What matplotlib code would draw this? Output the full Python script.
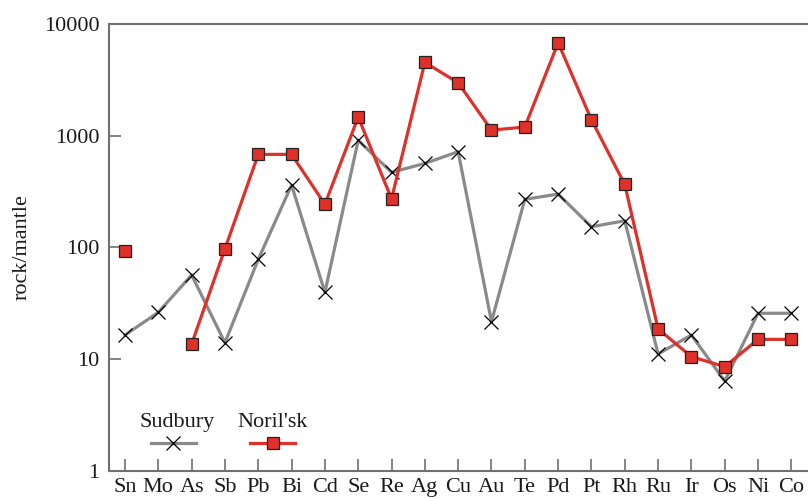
import numpy as np
import matplotlib
matplotlib.use('Agg')
import matplotlib.pyplot as plt

# Data
##############################################################################
elements = ['Sn', 'Mo', 'As', 'Sb', 'Pb', 'Bi', 'Cd', 'Se', 'Re', 'Ag', 'Cu',
            'Au', 'Te', 'Pd', 'Pt', 'Rh', 'Ru', 'Ir', 'Os', 'Ni', 'Co']
sudbury = [16.4, 26.2, 56.5, 14.0, 78, 361, 39.5, 910, 469, 565, 718,
           21.6, 269, 300, 153, 173, 11.1, 16.4, 6.35, 25.7, 25.7]
norilsk = [92, np.nan, 13.6, 97, 680, 680, 243, 1468, 272, 4530, 2977,
           1122, 1195, 6790, 1387, 366, 18.6, 10.5, 8.53, 15.0, 15.0]
yticks = [1, 10, 100, 1000, 10000]

# Style
##############################################################################
plt.rcParams['font.family'] = ['Liberation Serif', 'DejaVu Serif']
gray = '#8a8a8a'
red = '#e0302a'
spine_col = '#707070'
text_col = '#1a1a1a'
fs = 16

fig = plt.figure(figsize=(8.08, 4.99), dpi=100)
ax = fig.add_axes([0.1349, 0.0567, 0.8651, 0.8952])

x = np.arange(len(elements))
ax.plot(x, sudbury, color=gray, lw=2.3, marker='x', ms=9.5, mec='black',
        mew=0.9, zorder=2)
ax.plot(x, norilsk, color=red, lw=2.3, marker='s', ms=8, mfc=red,
        mec='#222222', mew=0.9, zorder=3)

ax.set_yscale('log')
ax.set_ylim(1, 10000)
ax.set_xlim(-0.48, 20.5)
ax.set_yticks(yticks)
ax.set_yticklabels([str(v) for v in yticks])
ax.yaxis.set_minor_locator(matplotlib.ticker.NullLocator())
ax.set_xticks(x)
ax.set_xticklabels(elements)

ax.tick_params(axis='both', direction='in', labelsize=fs, color=spine_col,
               labelcolor=text_col, width=1.2, length=8.5)
ax.tick_params(axis='x', pad=5)
ax.tick_params(axis='y', pad=7)
for side in ['left', 'bottom', 'top']:
    ax.spines[side].set_color(spine_col)
    ax.spines[side].set_linewidth(1.5)
ax.spines['right'].set_visible(False)

ax.set_ylabel('rock/mantle', fontsize=fs, color=text_col, labelpad=9)

# Legend: labels above the line samples
##############################################################################
tr = ax.transAxes
ax.text(0.097, 0.109, 'Sudbury', transform=tr, ha='center', va='center',
        fontsize=fs, color=text_col)
ax.plot([0.060, 0.124], [0.063, 0.063], transform=tr, color=gray, lw=2.3,
        clip_on=False)
ax.plot([0.092], [0.063], transform=tr, marker='x', ms=9.5, mec='black',
        mew=0.9, ls='none')
ax.text(0.234, 0.109, "Noril'sk", transform=tr, ha='center', va='center',
        fontsize=fs, color=text_col)
ax.plot([0.202, 0.266], [0.063, 0.063], transform=tr, color=red, lw=2.3,
        clip_on=False)
ax.plot([0.234], [0.063], transform=tr, marker='s', ms=8, mfc=red,
        mec='#222222', mew=0.9, ls='none')

plt.savefig('out.png', dpi=100)
